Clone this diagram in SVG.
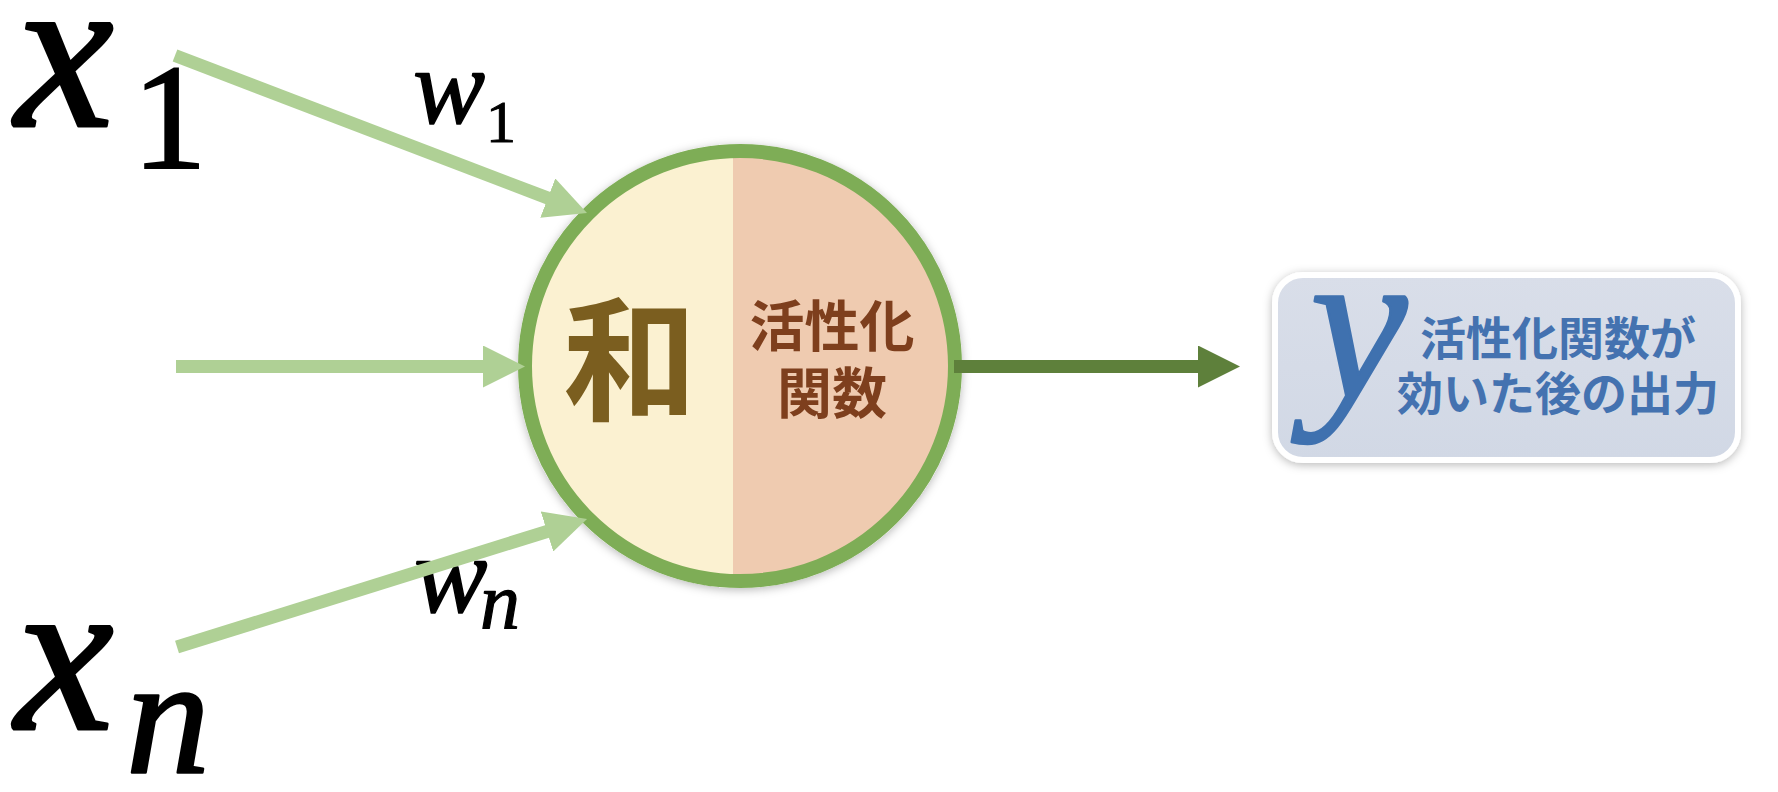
<svg xmlns="http://www.w3.org/2000/svg" width="1778" height="792" viewBox="0 0 1778 792">
  <style>
    .math { font-family: "Liberation Serif", "DejaVu Serif", serif; font-style: italic; fill: #000; stroke: #000; stroke-linejoin: round; }
    .digit { font-family: "Liberation Serif", "DejaVu Serif", serif; font-style: normal; fill: #000; stroke: #000; }
    .jp { font-family: "Noto Sans CJK JP", "Noto Sans", sans-serif; font-weight: 700; text-anchor: middle; }
    .in-line { stroke: #AFD095; stroke-width: 13; fill: none; marker-end: url(#headLight); }
    .out-line { stroke: #5E803B; stroke-width: 13; fill: none; marker-end: url(#headDark); }
  </style>
  <defs>
    <marker id="headLight" markerUnits="userSpaceOnUse" viewBox="0 0 42 42" markerWidth="42" markerHeight="42" refX="1" refY="21" orient="auto">
      <path d="M0,0 L42,21 L0,42 Z" fill="#AFD095"/>
    </marker>
    <marker id="headDark" markerUnits="userSpaceOnUse" viewBox="0 0 42 42" markerWidth="42" markerHeight="42" refX="1" refY="21" orient="auto">
      <path d="M0,0 L42,21 L0,42 Z" fill="#5E803B"/>
    </marker>
    <clipPath id="neuronClip">
      <circle cx="740" cy="366" r="216"/>
    </clipPath>
    <filter id="softShadow" x="-20%" y="-20%" width="140%" height="140%">
      <feDropShadow dx="0" dy="2" stdDeviation="5" flood-color="#000" flood-opacity="0.28"/>
    </filter>
    <linearGradient id="outFill" x1="0" y1="0" x2="0" y2="1">
      <stop offset="0" stop-color="#D9DEE9"/>
      <stop offset="1" stop-color="#D1D8E5"/>
    </linearGradient>
  </defs>

  <!-- inputs -->
  <g id="input-x1">
    <text class="math" x="15" y="126" font-size="222" stroke-width="3">x</text>
    <text class="digit" x="132" y="168" font-size="150" stroke-width="2">1</text>
  </g>
  <g id="input-xn">
    <text class="math" x="15" y="729" font-size="222" stroke-width="3">x</text>
    <text class="math" x="126" y="773" font-size="168" stroke-width="2.5">n</text>
  </g>

  <!-- weight labels -->
  <g id="weight-w1">
    <text class="math" x="413" y="123" font-size="108" stroke-width="1.5">w</text>
    <text class="digit" x="486" y="142" font-size="60" stroke-width="1">1</text>
  </g>
  <g id="weight-wn">
    <text class="math" x="414" y="612" font-size="110" stroke-width="1.5">w</text>
    <text class="math" x="480" y="628" font-size="80" stroke-width="1.2">n</text>
  </g>

  <!-- neuron: sum + activation -->
  <g id="neuron">
    <circle cx="740" cy="366" r="222" fill="#fff" filter="url(#softShadow)"/>
    <g clip-path="url(#neuronClip)">
      <rect x="520" y="140" width="213" height="460" fill="#FBF1D1"/>
      <rect x="733" y="140" width="230" height="460" fill="#EFCBB0"/>
    </g>
    <circle cx="740" cy="366" r="215" fill="none" stroke="#7EAD56" stroke-width="14"/>
    <text class="jp" x="630" y="410" font-size="134" fill="#7B5E1F">和</text>
    <text class="jp" x="832" y="346" font-size="55" fill="#7E3F1D">活性化</text>
    <text class="jp" x="832" y="413" font-size="55" fill="#7E3F1D">関数</text>
  </g>

  <!-- output -->
  <g id="output">
    <rect x="1275" y="275" width="463" height="185" rx="28" fill="url(#outFill)" stroke="#fff" stroke-width="6" filter="url(#softShadow)"/>
    <text class="math" x="1310" y="397" font-size="219" stroke-width="2.5" style="fill:#3F71AF;stroke:#3F71AF">y</text>
    <text class="jp" x="1558" y="355" font-size="46" fill="#4472B0">活性化関数が</text>
    <text class="jp" x="1558" y="410" font-size="46" fill="#4472B0">効いた後の出力</text>
  </g>

  <!-- connectors -->
  <g id="connectors">
    <line class="in-line" x1="175" y1="55.5" x2="548.7" y2="198.4"/>
    <line class="in-line" x1="176" y1="366.5" x2="484" y2="366.5"/>
    <line class="in-line" x1="177" y1="647" x2="547.9" y2="531.2"/>
    <line class="out-line" x1="954" y1="366.5" x2="1199" y2="366.5"/>
  </g>
</svg>
